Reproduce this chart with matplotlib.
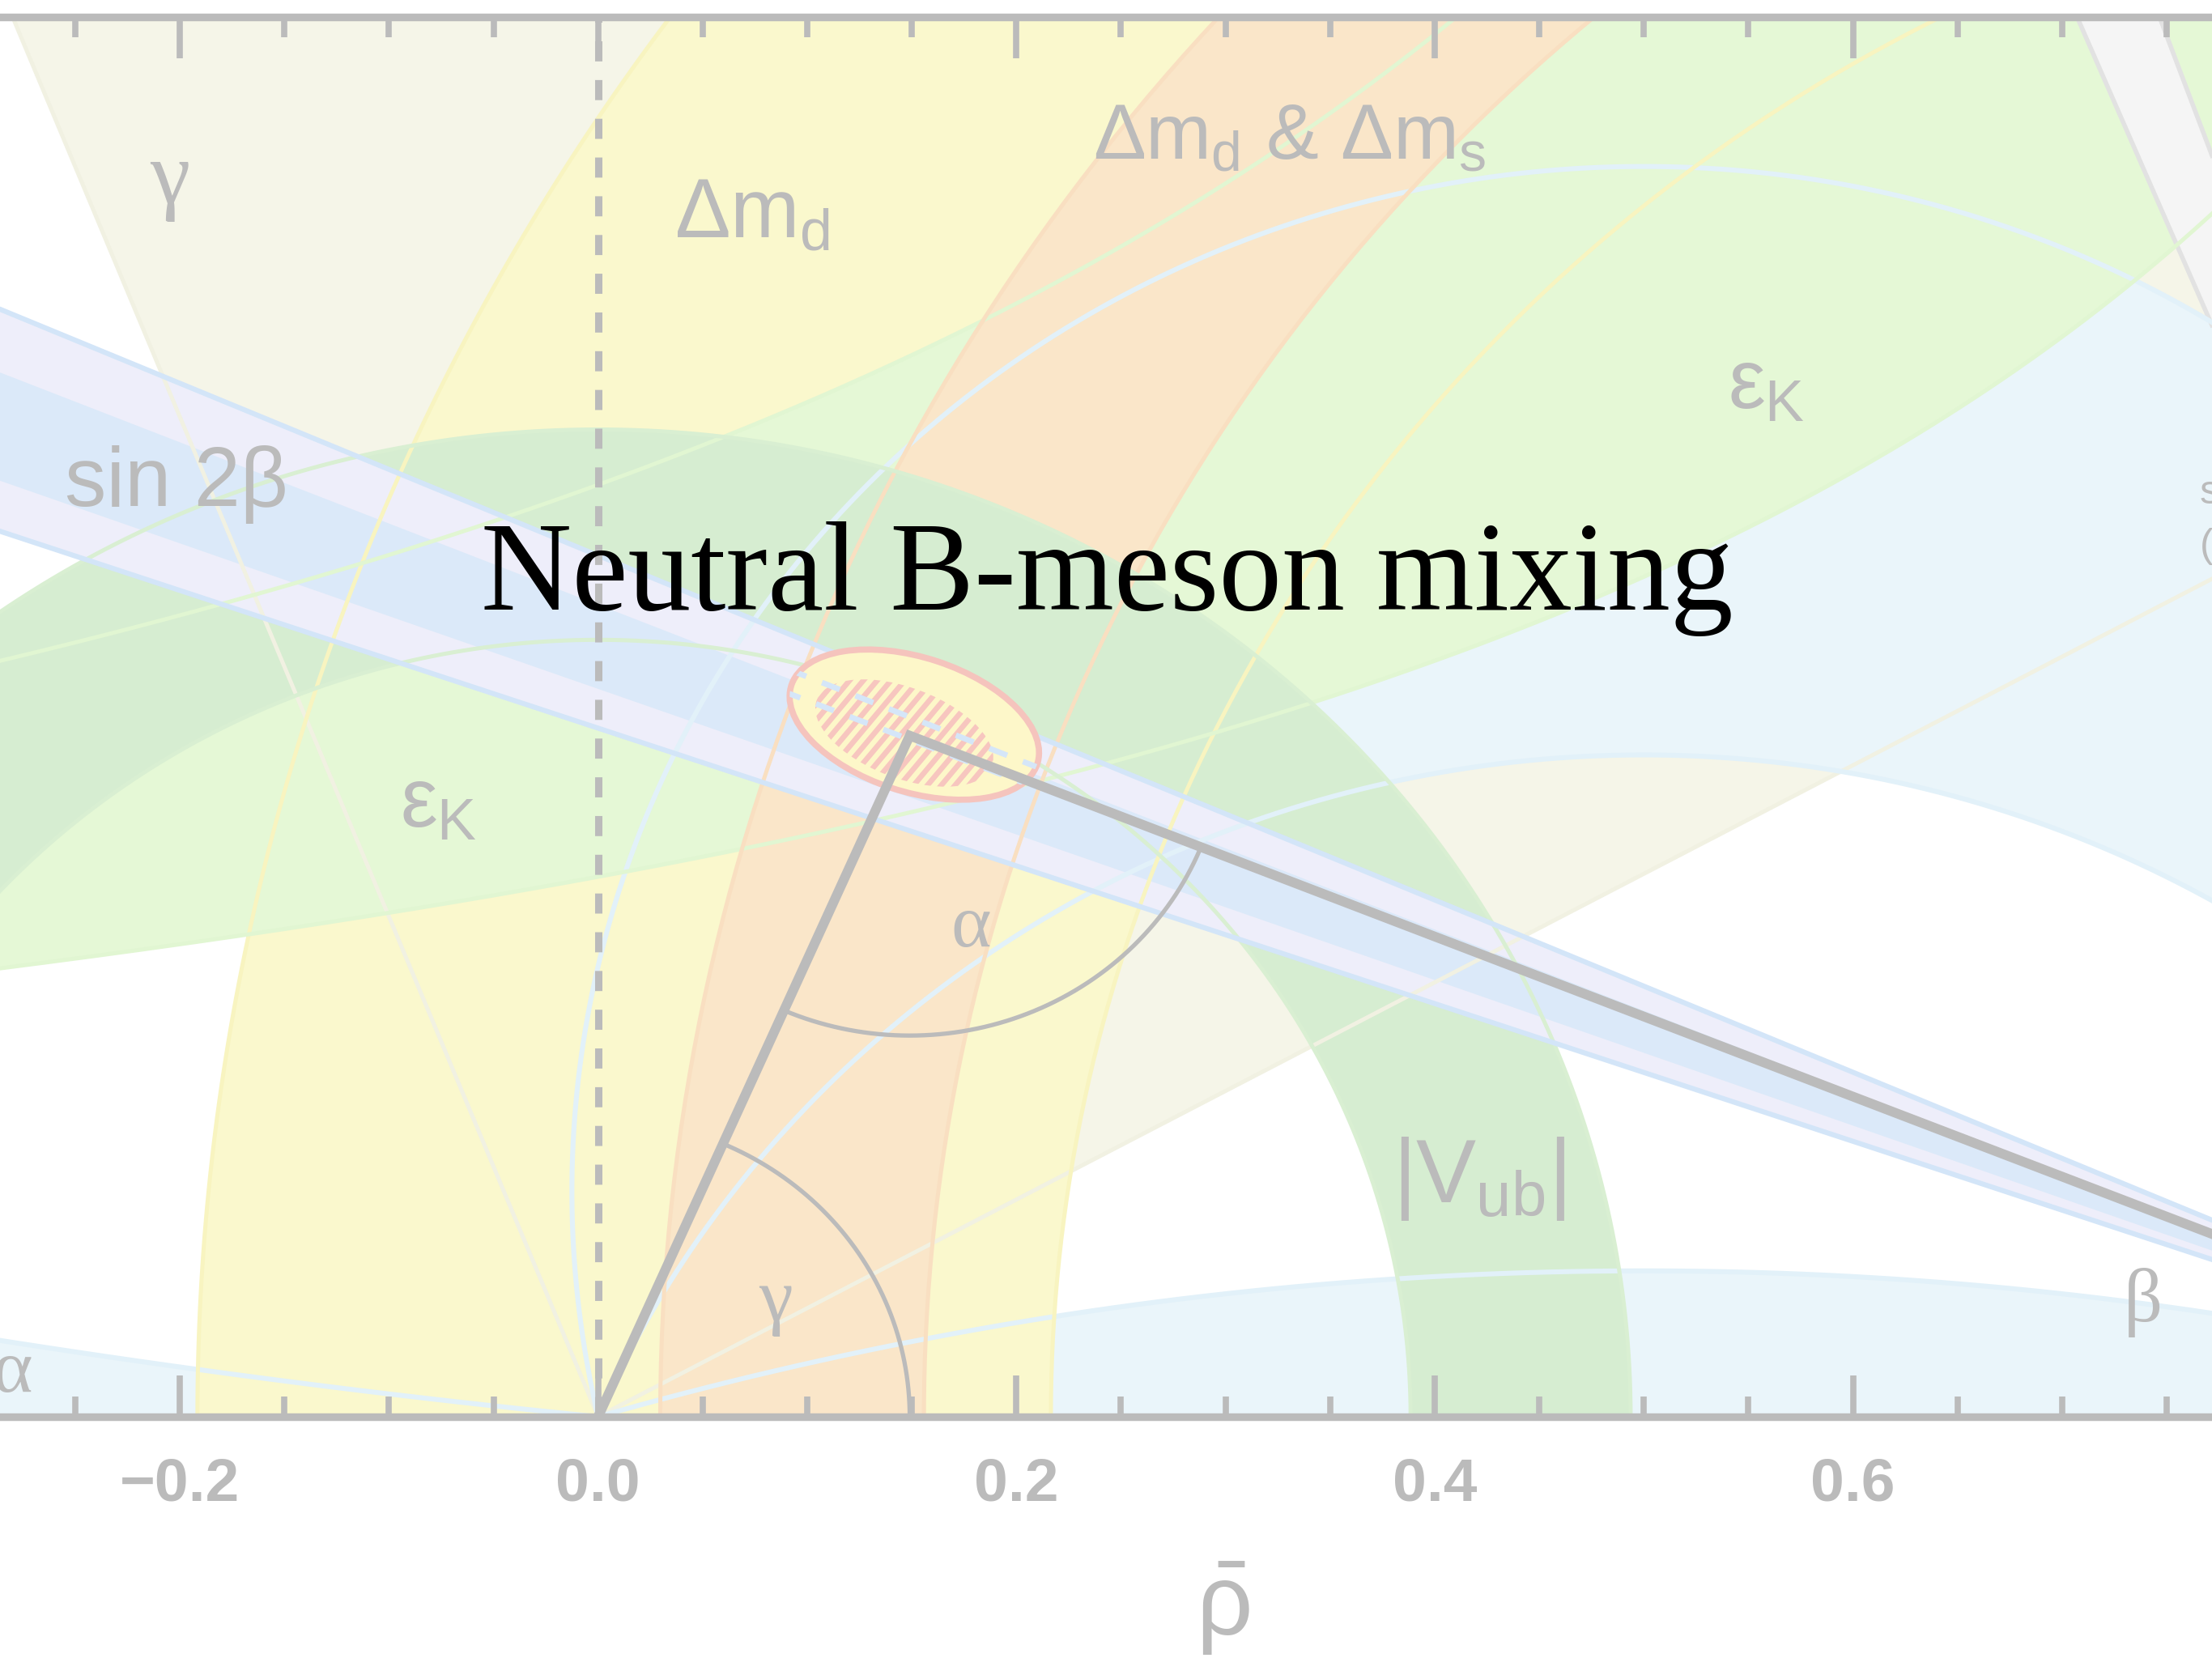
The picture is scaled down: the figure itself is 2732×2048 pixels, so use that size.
import numpy as np
import matplotlib.pyplot as plt
from matplotlib.patches import Polygon, Ellipse

plt.rcParams["font.family"] = ["Liberation Sans", "DejaVu Sans"]
plt.rcParams["mathtext.fontset"] = "custom"
plt.rcParams["mathtext.rm"] = "Liberation Sans"
plt.rcParams["mathtext.it"] = "Liberation Sans"
plt.rcParams["mathtext.bf"] = "Liberation Sans:bold"

GREY = "#bbbbbb"

# window in the (rho-bar, eta-bar) plane
RHO_LIM = (-0.286, 0.7717)
ETA_LIM = (0.0, 0.70)

# fitted apex of the unitarity triangle and its confidence regions
APEX = (0.149, 0.3406)
FIT_OUTER = dict(xy=(0.1512, 0.3461), width=0.124, height=0.067, angle=-19)
FIT_CORE = dict(xy=(0.1464, 0.3419), width=0.090, height=0.045, angle=-22)

# constraints
GAMMA_RANGE = (28.5, 111.8)                                   # deg, wedge from (0,0)
ALPHA_RANGES = [(0.0, 5.9), (77.3, 113.0), (163.4, 180.0)]    # deg, angle at apex
DMD = (1.005, 0.7885, 1.1966)                                 # centre, r_in, r_out
DMS = (1.0805, 0.9247, 1.0508)
EPSK_LOW = (0.378, 1.400)                                     # eta = a / (b - rho)
EPSK_HIGH = (0.5722, 1.2278)
VUB = (0.3885, 0.4937)                                        # radii around (0,0)
SIN2B_WIDE = (19.0, 23.3)                                     # deg, wedge from (1,0)
SIN2B_CORE = (20.0, 22.1)
COS2B_NEG = (67.3, 70.1)

XTICKS = [-0.2, 0.0, 0.2, 0.4, 0.6]
XTICK_LABELS = ["\u22120.2", "0.0", "0.2", "0.4", "0.6"]


def circle_pts(cx, cy, r, t0, t1, n=500):
    t = np.radians(np.linspace(t0, t1, n))
    return np.column_stack([cx + r * np.cos(t), cy + r * np.sin(t)])


def annulus(cx, r_in, r_out):
    return np.vstack([circle_pts(cx, 0, r_out, 0, 180),
                      circle_pts(cx, 0, r_in, 180, 0)])


def wedge(x0, a0, a1, reach=3.0):
    t = np.radians(np.linspace(a0, a1, 80))
    return np.vstack([[x0, 0.0],
                      np.column_stack([x0 + reach * np.cos(t), reach * np.sin(t)])])


def alpha_circle(a):
    a = np.radians(a)
    return 0.5 / np.tan(a), 0.5 / np.sin(a)


def upper_arc(a):
    # arc of constant alpha from (1,0) over the top to (0,0)
    h, r = alpha_circle(a)
    t0 = np.degrees(np.arctan2(-h, 0.5))
    t1 = np.degrees(np.arctan2(-h, -0.5))
    if t1 < t0:
        t1 += 360
    return circle_pts(0.5, h, r, t0, t1)


def alpha_band(lo, hi):
    if lo <= 0:
        h, r = alpha_circle(hi)
        t0 = np.degrees(np.arctan2(-h, -0.5))
        arc = circle_pts(0.5, h, r, t0, t0 - 25)
        return np.vstack([arc, [[arc[-1, 0], 0.0]]])
    top = upper_arc(lo)
    if hi >= 180:
        return top
    return np.vstack([top, upper_arc(hi)[::-1]])


def fill(ax, pts, color, z):
    ax.add_patch(Polygon(pts, closed=True, facecolor=color, edgecolor="none", zorder=z))


def ray(ax, x0, ang, color, lw, z, reach=3.0):
    t = np.radians(ang)
    line, = ax.plot([x0, x0 + reach * np.cos(t)], [0, reach * np.sin(t)],
                    color=color, lw=lw, zorder=z, solid_capstyle="butt")
    return line


fig = plt.figure(figsize=(27.32, 20.48), dpi=100)
ax = fig.add_axes([0, 1 - 1004 / 1175, 1, 992 / 1175])
ax.set_xlim(*RHO_LIM)
ax.set_ylim(*ETA_LIM)

# --- filled constraint regions, back to front
fill(ax, wedge(0.0, *GAMMA_RANGE), "#f5f5e8", 1)
for lo, hi in ALPHA_RANGES:
    fill(ax, alpha_band(lo, hi), "#eaf5fa", 2)
fill(ax, annulus(*DMD), "#faf8cd", 3)
rho = np.linspace(-0.4, 0.9, 600)
ax.fill_between(rho, EPSK_LOW[0] / (EPSK_LOW[1] - rho),
                EPSK_HIGH[0] / (EPSK_HIGH[1] - rho), color="#e5f8d6", lw=0, zorder=4)
fill(ax, wedge(1.0, 180 - COS2B_NEG[1], 180 - COS2B_NEG[0]), "#f5f5f5", 5)
for a in COS2B_NEG:
    ray(ax, 1.0, 180 - a, "#e2e2e2", 4.0, 5.5)
fill(ax, annulus(*DMS), "#fae6c9", 6)
fill(ax, annulus(0.0, *VUB), "#d6edd1", 7)
fill(ax, wedge(1.0, 180 - SIN2B_WIDE[1], 180 - SIN2B_WIDE[0]), "#eeeefa", 8)
fill(ax, wedge(1.0, 180 - SIN2B_CORE[1], 180 - SIN2B_CORE[0]), "#dbe9f9", 9)

# --- contour lines of every constraint, drawn over all fills
LW = 3.6
for a in GAMMA_RANGE:
    ray(ax, 0.0, a, "#f1f1e2", LW, 10)
for lo, hi in ALPHA_RANGES:
    for a in (lo, hi):
        if 0 < a < 180:
            h, r = alpha_circle(a)
            c = circle_pts(0.5, h, r, 0, 360, 2000)
            ax.plot(c[:, 0], c[:, 1], color="#e2f1f9", lw=LW + 0.8, zorder=10)
for r in DMD[1:]:
    c = circle_pts(DMD[0], 0, r, 0, 180)
    ax.plot(c[:, 0], c[:, 1], color="#f8f4c0", lw=LW, zorder=10)
for a, b in (EPSK_LOW, EPSK_HIGH):
    rr = np.linspace(-0.4, b - 0.15, 500)
    ax.plot(rr, a / (b - rr), color="#e1f6d2", lw=LW, zorder=10)
for r in DMS[1:]:
    c = circle_pts(DMS[0], 0, r, 0, 180)
    ax.plot(c[:, 0], c[:, 1], color="#f9dfc1", lw=LW, zorder=10)
for r in VUB:
    c = circle_pts(0, 0, r, 0, 180)
    ax.plot(c[:, 0], c[:, 1], color="#d9efd2", lw=LW, zorder=10)
for a in SIN2B_WIDE:
    ray(ax, 1.0, 180 - a, "#d3e5f8", 4.5, 10)

# dashed rho = 0 guide
ax.plot([0, 0], ETA_LIM, color=GREY, lw=6.5, ls=(0, (2.75, 2.55)), zorder=11)

# --- global fit: 95% region with hatched 68% core
outer = Ellipse(**FIT_OUTER, facecolor="#fdf7c9", edgecolor="#f5c4bd", lw=5.5, zorder=12)
ax.add_patch(outer)
core = Ellipse(**FIT_CORE, facecolor="none", edgecolor="none", zorder=12)
ax.add_patch(core)
cx, cy = FIT_CORE["xy"]
for off in np.arange(-0.1, 0.1, 0.0066):
    xs = np.array([-0.07, 0.07]) + cx + off
    ln, = ax.plot(xs, cy + 1.25 * (xs - cx - off), color="#f7c6bf", lw=4.8,
                  solid_capstyle="butt", zorder=12.5)
    ln.set_clip_path(core)
for b in (21.7, 22.35):
    ln = ray(ax, 1.0, 180 - b, "#d5e6f8", 5.0, 13)
    ln.set_linestyle((0, (3.4, 3.0)))
    ln.set_clip_path(outer)

# --- unitarity triangle with angle arcs
ax.plot([0, APEX[0], 1], [0, APEX[1], 0], color=GREY, lw=8.6,
        solid_joinstyle="miter", zorder=14)
t_top = np.degrees(np.arctan2(APEX[1], APEX[0]))
g = circle_pts(0, 0, 0.149, 0, t_top, 200)
ax.plot(g[:, 0], g[:, 1], color=GREY, lw=3.8, zorder=14)
t0 = np.degrees(np.arctan2(-APEX[1], -APEX[0]))
t1 = np.degrees(np.arctan2(-APEX[1], 1 - APEX[0]))
al = circle_pts(APEX[0], APEX[1], 0.15, t0, t1, 200)
ax.plot(al[:, 0], al[:, 1], color=GREY, lw=3.8, zorder=14)

# --- labels
band = dict(color=GREY, fontsize=74, zorder=20, va="baseline")
ax.text(-0.205, 0.607, "γ", family="Liberation Serif", ha="center",
        **{**band, "fontsize": 80})
ax.text(0.0364, 0.590, r"$\Delta m_d$", ha="left", **band)
ax.text(0.2365, 0.629, r"$\Delta m_d$ & $\Delta m_s$", ha="left", **{**band, "fontsize": 70})
ax.text(0.540, 0.5042, "$ε_K$", ha="left", **band)
ax.text(-0.0948, 0.2948, "$ε_K$", ha="left", **band)
ax.text(-0.255, 0.4554, "sin 2β", ha="left", **band)
ax.text(0.3798, 0.1073, r"$|V_{ub}|$", ha="left", **{**band, "fontsize": 80})
ax.text(0.7658, 0.4566, "sol. w/ cos 2β < 0", ha="left", clip_on=False,
        **{**band, "fontsize": 36})
ax.text(0.7658, 0.4298, "(excl. at CL > 0.95)", ha="left", clip_on=False,
        **{**band, "fontsize": 36})

ang = dict(color=GREY, fontsize=68, family="Liberation Serif", zorder=20, va="baseline")
ax.text(0.1686, 0.2351, "α", ha="left", **ang)
ax.text(0.085, 0.048, "γ", ha="center", **ang)
ax.text(0.7386, 0.0478, "β", ha="center", **ang)
ax.text(-0.2705, 0.0127, "α", ha="right", **ang)

ax.text(0.2988, -0.1094, r"$\bar{\rho}$", ha="center", va="baseline", color=GREY,
        fontsize=88, clip_on=False)

fig.text(0.5005, 1 - 432 / 1175, "Neutral B-meson mixing", ha="center", va="baseline",
         fontsize=112, family="Liberation Serif", color="black", zorder=30)

# --- frame
for side in ("left", "right"):
    ax.spines[side].set_visible(False)
for side in ("top", "bottom"):
    ax.spines[side].set_color(GREY)
    ax.spines[side].set_linewidth(6.8)
    ax.spines[side].set_zorder(25)
ax.xaxis.set_zorder(25)
ax.set_xticks(XTICKS)
ax.set_xticklabels(XTICK_LABELS)
ax.set_xticks(np.arange(-0.25, 0.76, 0.05), minor=True)
ax.set_yticks([])
ax.tick_params(axis="x", which="both", direction="in", top=True, bottom=True,
               color=GREY, width=5.5)
ax.tick_params(axis="x", which="major", length=37, labelsize=54,
               labelcolor=GREY, pad=36)
ax.tick_params(axis="x", which="minor", length=18)
for lab in ax.get_xticklabels():
    lab.set_fontweight("bold")

fig.savefig("out.png", dpi=100)
